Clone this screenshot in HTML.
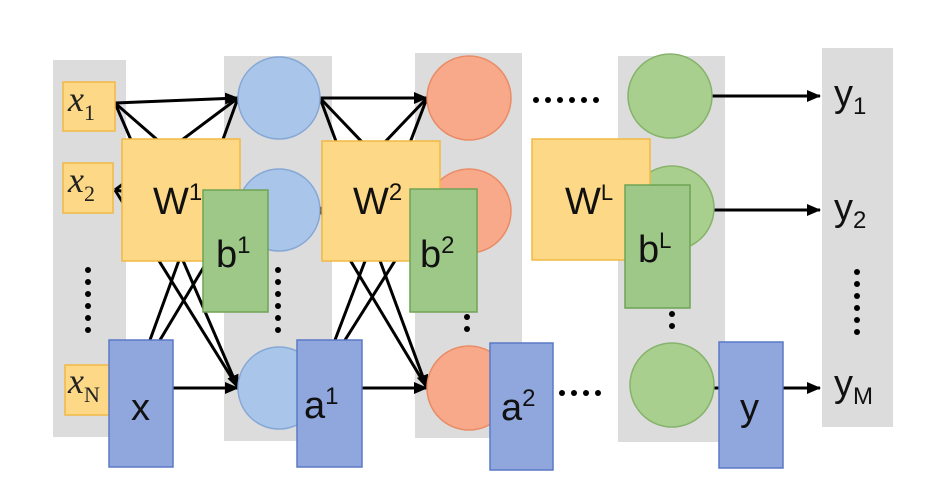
<!DOCTYPE html>
<html><head><meta charset="utf-8"><style>
html,body{margin:0;padding:0;background:#fff;width:945px;height:491px;overflow:hidden}
.s{font-family:"Liberation Sans",sans-serif}
.r{font-family:"Liberation Serif",serif}
</style></head><body>
<svg width="945" height="491" viewBox="0 0 945 491" xmlns="http://www.w3.org/2000/svg">
<defs>
<marker id="ah2" markerWidth="14" markerHeight="12" refX="13" refY="6" orient="auto" markerUnits="userSpaceOnUse">
<path d="M0,0 L14,6 L0,12 z" fill="#000"/></marker>
</defs>
<rect x="53" y="60" width="73" height="377" fill="#dcdcdc"/>
<rect x="224" y="56" width="108" height="385" fill="#dcdcdc"/>
<rect x="415" y="53" width="107" height="385" fill="#dcdcdc"/>
<rect x="618" y="56" width="107" height="386" fill="#dcdcdc"/>
<rect x="822" y="48" width="71" height="379" fill="#dcdcdc"/>
<g stroke="#000" stroke-width="3" fill="none">
<line x1="115" y1="103" x2="238" y2="98" marker-end="url(#ah2)"/>
<line x1="115" y1="103" x2="238" y2="210"/>
<line x1="115" y1="103" x2="238" y2="388" marker-end="url(#ah2)"/>
<line x1="115" y1="190" x2="238" y2="98"/>
<line x1="115" y1="190" x2="238" y2="210"/>
<line x1="115" y1="190" x2="238" y2="388"/>
<line x1="150" y1="340" x2="238" y2="98"/>
<line x1="160" y1="340" x2="238" y2="210"/>
<line x1="173" y1="388" x2="238" y2="388" marker-end="url(#ah2)"/>
<line x1="320" y1="98" x2="427" y2="98" marker-end="url(#ah2)"/>
<line x1="320" y1="98" x2="427" y2="210"/>
<line x1="320" y1="98" x2="427" y2="388" marker-end="url(#ah2)"/>
<line x1="320" y1="210" x2="427" y2="98"/>
<line x1="320" y1="210" x2="427" y2="388"/>
<line x1="335" y1="340" x2="427" y2="98"/>
<line x1="345" y1="340" x2="427" y2="210"/>
<line x1="362" y1="388" x2="427" y2="388" marker-end="url(#ah2)"/>
<line x1="712" y1="96" x2="820" y2="96" marker-end="url(#ah2)"/>
<line x1="712" y1="210" x2="820" y2="210" marker-end="url(#ah2)"/>
<line x1="783" y1="388" x2="820" y2="388" marker-end="url(#ah2)"/>
<line x1="710" y1="388" x2="719" y2="388"/>
</g>
<g fill="#fdd886" stroke="#f2b844" stroke-width="1.5">
<rect x="63" y="82" width="52" height="49"/>
<rect x="63" y="163" width="50" height="50"/>
<rect x="65" y="365" width="50" height="50"/>
</g>
<g class="r" font-style="italic" font-size="36" fill="#222">
<text x="68" y="111">x<tspan font-style="normal" font-size="22" dy="9">1</tspan></text>
<text x="68" y="192">x<tspan font-style="normal" font-size="22" dy="9">2</tspan></text>
<text x="68" y="393">x<tspan font-style="normal" font-size="22" dy="9">N</tspan></text>
</g>
<g fill="#a9c6ea" stroke="#86a8d6" stroke-width="1.5">
<circle cx="279" cy="98" r="41"/><circle cx="279" cy="210" r="41"/><circle cx="279" cy="388" r="41"/>
</g>
<g fill="#f8a98a" stroke="#e98c66" stroke-width="1.5">
<circle cx="469" cy="98" r="42"/><circle cx="469" cy="211" r="42"/><circle cx="469" cy="388" r="42"/>
</g>
<g fill="#a8cf8e" stroke="#86b36a" stroke-width="1.5">
<circle cx="670" cy="96" r="42"/><circle cx="672" cy="208" r="42"/><circle cx="672" cy="385" r="42"/>
</g>
<g fill="#000">
<circle cx="88" cy="270" r="3"/><circle cx="88" cy="282" r="3"/><circle cx="88" cy="294" r="3"/><circle cx="88" cy="306" r="3"/><circle cx="88" cy="318" r="3"/><circle cx="88" cy="330" r="3"/>
<circle cx="278" cy="270" r="3"/><circle cx="278" cy="282" r="3"/><circle cx="278" cy="294" r="3"/><circle cx="278" cy="306" r="3"/><circle cx="278" cy="318" r="3"/><circle cx="278" cy="330" r="3"/>
<circle cx="467" cy="317" r="3"/><circle cx="467" cy="329" r="3"/>
<circle cx="672" cy="314" r="3"/><circle cx="672" cy="326" r="3"/>
<circle cx="857" cy="272" r="3"/><circle cx="857" cy="284" r="3"/><circle cx="857" cy="296" r="3"/><circle cx="857" cy="308" r="3"/><circle cx="857" cy="320" r="3"/><circle cx="857" cy="332" r="3"/>
<circle cx="536" cy="100" r="3"/><circle cx="548" cy="100" r="3"/><circle cx="560" cy="100" r="3"/><circle cx="572" cy="100" r="3"/><circle cx="584" cy="100" r="3"/><circle cx="596" cy="100" r="3"/>
<circle cx="562" cy="393" r="3"/><circle cx="574" cy="393" r="3"/><circle cx="586" cy="393" r="3"/><circle cx="598" cy="393" r="3"/>
</g>
<g fill="#fdd886" stroke="#f2b844" stroke-width="1.5">
<rect x="122" y="139" width="118" height="122"/>
<rect x="322" y="141" width="118" height="120"/>
<rect x="532" y="139" width="118" height="121"/>
</g>
<g fill="#9dc888" stroke="#6ea456" stroke-width="1.5">
<rect x="203" y="190" width="65" height="122"/>
<rect x="410" y="189" width="67" height="123"/>
<rect x="625" y="185" width="65" height="123"/>
</g>
<g fill="#8fa7dd" stroke="#5b78c6" stroke-width="1.5">
<rect x="109" y="340" width="64" height="127"/>
<rect x="297" y="340" width="65" height="127"/>
<rect x="490" y="343" width="63" height="127"/>
<rect x="719" y="342" width="64" height="126"/>
</g>
<g class="s" font-size="38" fill="#111">
<text x="153" y="214">W<tspan font-size="24" dy="-14">1</tspan></text>
<text x="353" y="214">W<tspan font-size="24" dy="-14">2</tspan></text>
<text x="565" y="214">W<tspan font-size="22" dy="-14">L</tspan></text>
<text x="216" y="267">b<tspan font-size="24" dy="-14">1</tspan></text>
<text x="420" y="267">b<tspan font-size="24" dy="-14">2</tspan></text>
<text x="638" y="262">b<tspan font-size="22" dy="-14">L</tspan></text>
<text x="131" y="420">x</text>
<text x="304" y="418">a<tspan font-size="24" dy="-14">1</tspan></text>
<text x="501" y="420">a<tspan font-size="24" dy="-14">2</tspan></text>
<text x="740" y="420">y</text>
<text x="834" y="106">y<tspan font-size="24" dy="8">1</tspan></text>
<text x="834" y="220">y<tspan font-size="24" dy="8">2</tspan></text>
<text x="834" y="396">y<tspan font-size="24" dy="8">M</tspan></text>
</g>
</svg>
</body></html>
